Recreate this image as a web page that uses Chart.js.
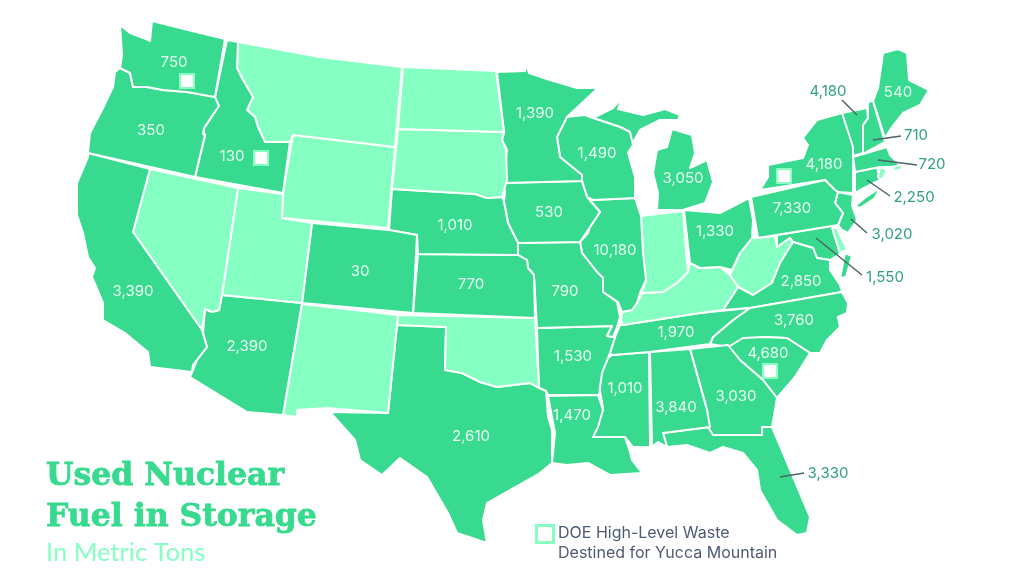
<!DOCTYPE html>
<html>
<head>
<meta charset="utf-8">
<title>Used Nuclear Fuel in Storage</title>
<script src="https://cdn.jsdelivr.net/npm/chart.js@4"></script>
<style>
    html, body { margin: 0; padding: 0; background: #ffffff; }
    #wrap { width: 1024px; height: 584px; }
</style>
</head>
<body>
<div id="wrap"><canvas id="mapChart" width="1024" height="584"></canvas></div>
<script>
// Tons per state, null = no fuel stored (drawn pale)
const stateNames = ['WA','OR','CA','ID','NV','UT','AZ','MT','WY','CO','NM','ND','SD','NE','KS','OK','TX','MN','IA','MO','AR','LA','WI','IL','IN','MI','OH','KY','TN','MS','AL','GA','FL','SC','NC','VA','WV','PA','NY','VT','NH','ME','MA','RI','CT','NJ','DE','MD'];
const stateTons = [750,350,3390,130,null,null,2390,null,null,30,null,null,null,1010,770,null,2610,1390,530,790,1530,1470,1490,10180,null,3050,1330,null,1970,1010,3840,3030,3330,4680,3760,2850,null,7330,4180,4180,710,540,720,null,2250,3020,null,1550];

// Where each value is written, same order as stateNames
const labelX = [174,151,133,232,0,0,247,0,0,360,0,0,0,455,471,0,471,535,549,565,573,572,597,615,0,683,715,0,676,625,676,736,828,768,794,801,0,792,824,828,916,898,932,0,914,892,0,885];
const labelY = [62,130,291,156,0,0,346,0,0,271,0,0,0,225,284,0,436,113,212,291,356,415,153,250,0,178,231,0,332,388,407,396,473,353,320,281,0,208,164,91,135,92,164,0,197,234,0,277];
const outsideLabels = ['VT','NH','MA','CT','NJ','MD','FL'];

// Outlines in map units, flat x,y lists, one or more rings per state
const stateOutlines = [
    [[120,25,130,33,146,39,150,41,151,31,152,21,188,30,225,39,215,97,187,92,163,90,147,87,133,87,130,73,120,68,122,55]],
    [[120,68,130,73,133,87,147,87,163,90,187,92,215,97,219,106,214,113,204,128,203,134,205,135,195,177,88,153,90,133,102,110,113,87,115,72]],
    [[88,153,150,169,133,232,202,330,207,347,193,365,192,372,150,367,148,352,137,343,125,333,103,320,103,303,92,277,95,268,88,257,83,233,77,215,77,183,88,157]],
    [[227,40,238,42,237,68,243,80,253,97,247,110,255,117,258,127,265,142,290,142,283,193,195,177,205,135,203,130,218,107,215,97]],
    [[150,169,238,188,222,295,219,310,212,312,205,309,202,330,133,232]],
    [[238,188,283,194,282,218,312,223,302,303,222,295]],
    [[222,295,302,303,283,415,247,412,190,377,193,370,197,360,207,347,203,333,205,309,212,312,219,310]],
    [[238,42,320,57,402,67,395,147,293,135,290,142,265,142,258,127,255,117,247,110,253,97,243,80,237,68]],
    [[293,135,395,147,388,228,282,218,283,193]],
    [[312,223,389,230,417,235,413,313,302,303]],
    [[302,304,398,315,397,325,388,413,327,408,297,410,297,417,283,415]],
    [[403,67,496,71,504,132,398,129]],
    [[398,129,504,132,502,140,506,150,507,180,502,197,487,198,475,194,392,189]],
    [[392,189,475,194,487,198,502,197,504,202,508,223,518,243,518,255,418,254,417,235,389,230]],
    [[418,254,518,255,527,260,528,268,534,275,535,318,413,313]],
    [[398,315,535,318,539,388,530,383,497,387,480,382,462,373,445,370,446,327,397,325]],
    [[397,325,446,327,445,370,462,373,480,382,497,387,530,383,539,388,546,391,548,417,552,430,552,463,540,473,487,503,483,520,487,543,457,533,448,513,427,477,400,458,382,475,360,460,355,440,330,412,388,413]],
    [[497,72,525,71,526,64,529,73,550,80,577,88,598,88,567,117,557,137,560,157,582,175,582,181,503,183,507,150,502,140,504,132]],
    [[503,183,582,181,587,197,600,212,590,227,580,242,518,243,508,223,504,202,505,192]],
    [[518,243,580,242,582,253,597,272,603,278,603,292,617,302,620,317,617,327,613,337,607,336,612,326,537,328,534,275,528,268,527,260,518,255]],
    [[537,328,612,326,607,336,615,337,610,353,602,373,599,395,548,395,546,391,539,388]],
    [[548,396,598,395,603,410,598,427,593,437,625,437,630,452,632,460,642,473,610,475,588,463,567,465,552,463,555,433]],
    [[565,117,585,115,593,118,620,127,630,132,633,145,628,153,635,177,635,198,593,200,587,197,582,181,582,175,560,157,557,137]],
    [[593,200,635,198,641,216,643,253,646,280,640,293,637,303,632,310,622,312,618,302,603,292,603,278,597,272,582,253,580,242,588,233,590,227,600,212,587,197]],
    [[641,216,683,211,687,263,688,272,677,283,663,292,642,293,646,280,643,253]],
    [[593,118,613,108,622,98,618,109,643,115,665,109,680,115,678,120,660,120,640,130,630,148,630,132,620,127],
     [672,129,692,135,695,153,690,168,707,160,713,182,705,203,683,210,657,210,658,193,653,173,657,150,667,147]],
    [[684,210,720,213,749,198,753,220,752,238,740,253,732,270,720,267,700,268,690,263]],
    [[690,263,700,268,720,267,730,275,738,287,723,310,700,313,642,322,623,325,621,320,622,312,632,310,637,303,642,293,663,292,677,283,688,272]],
    [[620,325,642,322,700,313,750,308,733,320,713,337,710,344,650,352,612,355,610,353,615,337]],
    [[612,355,649,352,650,447,633,447,625,437,593,437,603,408,598,380,608,358]],
    [[650,352,690,349,707,410,710,427,663,433,667,447,658,442,652,447]],
    [[690,349,728,345,740,360,763,380,777,398,772,427,762,427,762,435,713,435,708,427,707,410]],
    [[663,433,710,427,713,435,762,435,762,427,772,427,783,453,810,517,807,533,797,535,777,520,760,490,757,470,743,453,723,447,710,453,687,445,667,447]],
    [[728,347,743,338,763,337,787,338,810,353,795,377,777,398,763,380,740,360]],
    [[750,308,842,292,848,303,847,313,838,317,840,327,827,340,820,353,810,353,787,338,763,337,728,347,710,344,713,337,733,320]],
    [[723,310,738,287,753,295,772,283,780,263,793,242,813,248,817,258,830,260,830,270,840,285,842,292,750,308],
     [845,253,852,256,846,277,840,278]],
    [[730,275,740,253,752,238,758,238,775,236,777,247,790,238,793,242,780,263,772,283,753,295,738,287]],
    [[751,197,825,180,835,190,838,192,835,203,843,213,838,225,758,238]],
    [[768,165,803,158,808,145,803,138,817,120,842,113,853,147,853,193,838,192,835,190,825,180,760,190,768,177],
     [855,206,866,197,880,188,875,198,860,208]],
    [[842,113,867,108,868,118,863,125,863,153,853,156]],
    [[868,102,873,101,885,142,863,154,863,125,868,118]],
    [[873,101,878,88,882,60,883,53,898,49,907,53,909,80,929,90,920,105,903,113,892,127,885,138]],
    [[853,157,863,154,887,147,890,155,900,165,892,167,880,167,855,172]],
    [[880,167,887,170,882,180,878,177],
     [892,167,901,164,902,169,895,171]],
    [[855,172,877,167,880,180,860,190,855,193]],
    [[838,192,853,195,852,205,857,220,848,233,842,230,838,225,843,213,835,203]],
    [[832,228,837,228,847,250,840,253]],
    [[777,235,832,226,840,254,830,260,817,258,813,248,793,242,790,238,777,247]]
];

// Leader lines from outside labels into the small states, state order as outsideLabels
const leaderLines = [
    [842,100,857,115],
    [901,136,873,140],
    [917,165,878,160],
    [890,196,867,180],
    [867,233,851,219],
    [862,275,816,238],
    [804,473,780,477]
];

// DOE waste sites
const wasteSiteX = [187,261,784,770];
const wasteSiteY = [81,158,176,371];

const titleLines = ['Used Nuclear','Fuel in Storage'];
const subtitle = 'In Metric Tons';
const legendLines = ['DOE High-Level Waste','Destined for Yucca Mountain'];

const GREEN = '#37da8e';
const PALE = '#86ffc3';

function toPoints(flat) {
    const pts = [];
    for (let i = 0; i < flat.length; i += 2) pts.push({ x: flat[i], y: flat[i + 1] });
    return pts;
}

const datasets = [];

// first in the list = drawn on top
datasets.push({
    label: 'sites',
    data: wasteSiteX.map((x, i) => ({ x: x, y: wasteSiteY[i] })),
    pointStyle: 'rect',
    pointRadius: 10,
    pointBackgroundColor: '#ffffff',
    pointBorderColor: PALE,
    pointBorderWidth: 2
});
datasets.push({
    label: 'legend',
    data: [{ x: 545, y: 534 }],
    pointStyle: 'rect',
    pointRadius: 12,
    pointBackgroundColor: '#ffffff',
    pointBorderColor: PALE,
    pointBorderWidth: 3
});
leaderLines.forEach((l, i) => {
    datasets.push({
        label: 'leader ' + outsideLabels[i],
        data: toPoints(l),
        showLine: true,
        borderColor: '#4a6468',
        borderWidth: 1.5,
        pointRadius: 0
    });
});
stateNames.forEach((name, i) => {
    stateOutlines[i].forEach(ring => {
        const pts = toPoints(ring);
        pts.push(pts[0]);
        datasets.push({
            label: name,
            data: pts,
            showLine: true,
            fill: 'shape',
            tension: 0,
            backgroundColor: stateTons[i] === null ? PALE : GREEN,
            borderColor: '#ffffff',
            borderWidth: 2,
            borderJoinStyle: 'round',
            pointRadius: 0
        });
    });
});

// Writes the numbers, title and legend text on the canvas
const mapText = {
    id: 'mapText',
    afterDraw(chart) {
        const ctx = chart.ctx;
        const sx = chart.scales.x, sy = chart.scales.y;
        ctx.save();
        ctx.textBaseline = 'middle';
        ctx.textAlign = 'center';
        ctx.font = '15px Inter, sans-serif';
        stateNames.forEach((name, i) => {
            if (stateTons[i] === null) return;
            ctx.fillStyle = outsideLabels.includes(name) ? '#2f9f86' : '#e9fff4';
            ctx.fillText(stateTons[i].toLocaleString('en-US'), sx.getPixelForValue(labelX[i]), sy.getPixelForValue(labelY[i]));
        });

        ctx.textBaseline = 'alphabetic';
        ctx.textAlign = 'left';
        ctx.fillStyle = GREEN;
        ctx.strokeStyle = GREEN;
        ctx.lineWidth = 0.8;
        ctx.font = 'bold 31.5px "DejaVu Serif", serif';
        titleLines.forEach((line, i) => {
            ctx.fillText(line, 46, 485 + i * 41);
            ctx.strokeText(line, 46, 485 + i * 41);
        });
        ctx.fillStyle = PALE;
        ctx.font = '25.5px Lato, sans-serif';
        ctx.fillText(subtitle, 46, 561);
        ctx.fillStyle = '#4e5b75';
        ctx.font = '16px Inter, sans-serif';
        ctx.fillText(legendLines[0], 558, 538);
        ctx.fillText(legendLines[1], 558, 558);
        ctx.restore();
    }
};

new Chart(document.getElementById('mapChart').getContext('2d'), {
    type: 'scatter',
    data: { datasets: datasets },
    plugins: [mapText],
    options: {
        responsive: false,
        animation: false,
        layout: { padding: 0, autoPadding: false },
        plugins: { legend: { display: false }, tooltip: { enabled: false }, title: { display: false } },
        scales: {
            x: { type: 'linear', min: 0, max: 1024, display: false },
            y: { type: 'linear', min: 0, max: 584, reverse: true, display: false }
        }
    }
});
</script>
</body>
</html>
